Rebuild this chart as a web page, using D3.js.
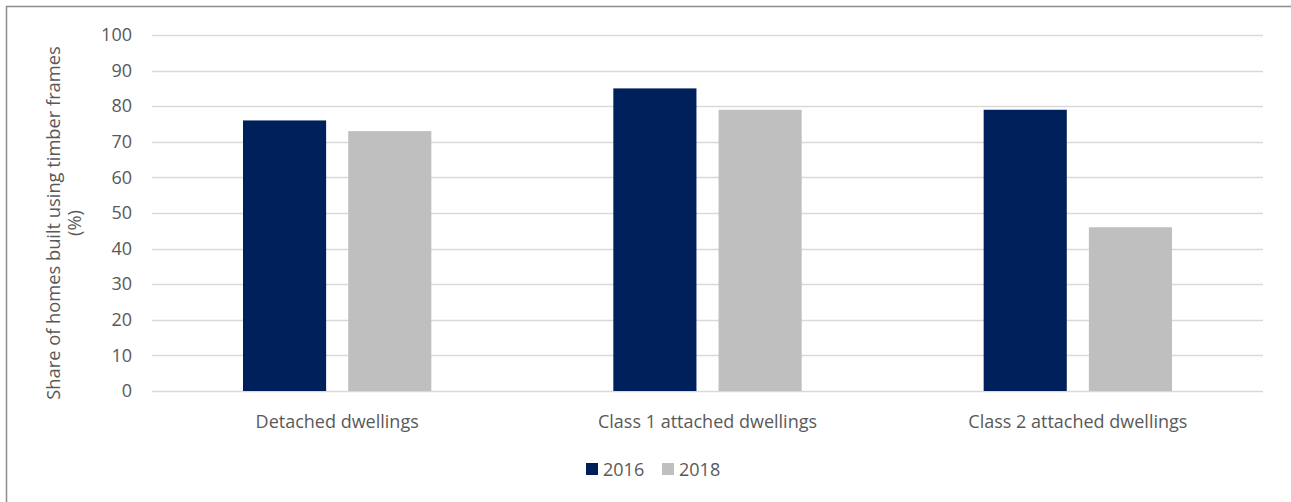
<!DOCTYPE html>
<html>
<head>
<meta charset="utf-8">
<script src="https://cdn.jsdelivr.net/npm/d3@7"></script>
<style>
  html, body { margin: 0; padding: 0; background: #fff; }
  svg { display: block; font-family: "Open Sans", "Liberation Sans", sans-serif; }
</style>
</head>
<body>
<svg id="chart" width="1291" height="502"></svg>
<script>
// Share of homes built using timber frames, by dwelling type
const categories = ["Detached dwellings", "Class 1 attached dwellings", "Class 2 attached dwellings"];
const seriesNames = ["2016", "2018"];
const values2016 = [76, 85, 79];
const values2018 = [73, 79, 46];
const yTicks = [0, 10, 20, 30, 40, 50, 60, 70, 80, 90, 100];
const colors = ["#00205B", "#BFBFBF"];

const svg = d3.select("#chart");
const W = 1291, H = 502;
const margin = { left: 152, right: 28, top: 35, bottom: 111 };
const plotW = W - margin.left - margin.right;
const plotH = H - margin.top - margin.bottom;
const textColor = "#595959";
const fontSize = "18px";

// outer frame
svg.append("rect")
  .attr("x", 6.5).attr("y", 6.5)
  .attr("width", W + 10).attr("height", H + 10)
  .attr("fill", "none").attr("stroke", "#8c8c8c").attr("stroke-width", 1.5);

const g = svg.append("g").attr("transform", `translate(${margin.left},${margin.top})`);

const x0 = d3.scaleBand().domain(categories).range([0, plotW]).paddingInner(0).paddingOuter(0);
const x1 = d3.scaleBand().domain(seriesNames).range([91, x0.bandwidth() - 91]).paddingInner(0.21);
const y = d3.scaleLinear().domain([0, 100]).range([plotH, 0]);

// gridlines
g.append("g")
  .selectAll("line")
  .data(yTicks)
  .join("line")
  .attr("x1", 0).attr("x2", plotW)
  .attr("y1", d => Math.round(y(d)) + 0.5).attr("y2", d => Math.round(y(d)) + 0.5)
  .attr("stroke", "#D9D9D9").attr("stroke-width", 1.5);

// y axis labels
const yAxis = d3.axisLeft(y).tickValues(yTicks).tickSize(0).tickPadding(20);
const ya = g.append("g").call(yAxis);
ya.select(".domain").remove();
ya.selectAll("text").attr("fill", textColor).style("font-size", fontSize)
  .style("font-family", "\"Open Sans\", sans-serif");

// bars
const data = categories.map((c, i) => ({ cat: c, vals: [values2016[i], values2018[i]] }));
const groups = g.selectAll(".grp").data(data).join("g")
  .attr("class", "grp")
  .attr("transform", d => `translate(${x0(d.cat)},0)`);
groups.selectAll("rect")
  .data(d => d.vals.map((v, j) => ({ s: seriesNames[j], v, j })))
  .join("rect")
  .attr("x", d => x1(d.s))
  .attr("width", x1.bandwidth())
  .attr("y", d => y(d.v))
  .attr("height", d => y(0) - y(d.v))
  .attr("fill", d => colors[d.j]);

// x axis labels
const xAxis = d3.axisBottom(x0).tickSize(0).tickPadding(24);
const xa = g.append("g").attr("transform", `translate(0,${plotH})`).call(xAxis);
xa.select(".domain").remove();
xa.selectAll("text").attr("fill", textColor).style("font-size", fontSize)
  .style("font-family", "\"Open Sans\", sans-serif");

// y axis title
const yt = svg.append("text")
  .attr("transform", "translate(60,223) rotate(-90)")
  .attr("text-anchor", "middle")
  .attr("fill", textColor)
  .style("font-size", "18.3px");
yt.append("tspan").attr("x", 0).attr("dy", 0).text("Share of homes built using timber frames");
yt.append("tspan").attr("x", 0).attr("dy", 21).text("(%)");

// legend
const legend = svg.append("g").attr("transform", "translate(586,463)");
const items = legend.selectAll("g").data(seriesNames).join("g")
  .attr("transform", (d, i) => `translate(${i * 76},0)`);
items.append("rect").attr("width", 12).attr("height", 12).attr("fill", (d, i) => colors[i]);
items.append("text").attr("x", 17).attr("y", 13).attr("fill", textColor)
  .style("font-size", fontSize).text(d => d);
</script>
</body>
</html>
